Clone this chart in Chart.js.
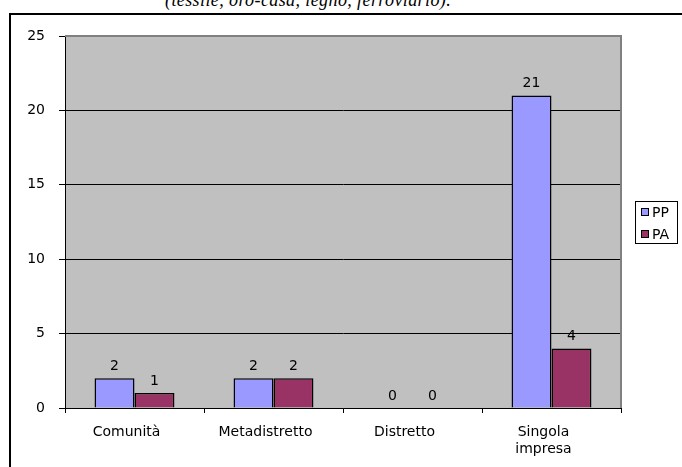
<!DOCTYPE html>
<html>
<head>
<meta charset="utf-8">
<script src="https://cdn.jsdelivr.net/npm/chart.js@4.4.1/dist/chart.umd.min.js"></script>
<style>
  html, body { margin: 0; padding: 0; background: #fff; overflow: hidden; }
  #wrap { position: relative; width: 682px; height: 467px; }
  #caption {
    position: absolute; left: 165px; top: -9px;
    font: italic 18px "Liberation Serif", serif; line-height: 18px; color: #000;
    white-space: nowrap; letter-spacing: 0.4px;
  }
  #frame {
    position: absolute; left: 9px; top: 13px; width: 720px; height: 520px;
    border: 2px solid #000; box-sizing: border-box; background: #fff;
  }
  canvas { position: absolute; left: 0; top: 0; }
</style>
</head>
<body>
<div id="wrap">
  <div id="caption">(tessile, oro-casa, legno, ferroviario).</div>
  <div id="frame"></div>
  <canvas id="c" width="682" height="467"></canvas>
</div>
<script>
// Categories and series
const categories = ['Comunità', 'Metadistretto', 'Distretto', ['Singola', 'impresa']];
const seriesPP = [2, 2, 0, 21];
const seriesPA = [1, 2, 0, 4];
const yTicks = [0, 5, 10, 15, 20, 25];

const FONT = 'DejaVu Sans, Verdana, sans-serif';
const FSIZE = 14;

// Gray plot background plus its gray top/right edge
const plotArea = {
  id: 'plotArea',
  beforeDraw(chart) {
    const { ctx, chartArea: a } = chart;
    ctx.save();
    ctx.fillStyle = '#c0c0c0';
    ctx.fillRect(a.left, a.top, a.right - a.left, a.bottom - a.top);
    ctx.restore();
  },
  beforeDatasetsDraw(chart) {
    const { ctx, chartArea: a } = chart;
    ctx.save();
    ctx.strokeStyle = '#808080';
    ctx.lineWidth = 2;
    ctx.beginPath();
    ctx.moveTo(a.left, a.top);
    ctx.lineTo(a.right, a.top);
    ctx.lineTo(a.right, a.bottom);
    ctx.stroke();
    ctx.restore();
  }
};

// Value labels above each bar
const valueLabels = {
  id: 'valueLabels',
  afterDatasetsDraw(chart) {
    const { ctx } = chart;
    ctx.save();
    ctx.font = FSIZE + 'px ' + FONT;
    ctx.fillStyle = '#000';
    ctx.textAlign = 'center';
    ctx.textBaseline = 'middle';
    chart.data.datasets.forEach((ds, i) => {
      chart.getDatasetMeta(i).data.forEach((el, j) => {
        ctx.fillText(String(ds.data[j]), el.x, el.y - 12);
      });
    });
    ctx.restore();
  }
};

// Boxed legend to the right of the plot
const boxLegend = {
  id: 'boxLegend',
  afterDraw(chart) {
    const { ctx } = chart;
    const x = 635, y = 201, w = 42, h = 42;
    ctx.save();
    ctx.fillStyle = '#fff';
    ctx.fillRect(x, y, w, h);
    ctx.strokeStyle = '#000';
    ctx.lineWidth = 1;
    ctx.strokeRect(x + 0.5, y + 0.5, w, h);
    ctx.font = FSIZE + 'px ' + FONT;
    ctx.textBaseline = 'middle';
    chart.data.datasets.forEach((ds, i) => {
      const cy = 212 + i * 22;
      ctx.fillStyle = ds.backgroundColor;
      ctx.fillRect(641, cy - 4, 8, 8);
      ctx.strokeStyle = '#000';
      ctx.strokeRect(641.5, cy - 3.5, 7, 7);
      ctx.fillStyle = '#000';
      ctx.fillText(ds.label, 652, cy + 1);
    });
    ctx.restore();
  }
};

new Chart(document.getElementById('c'), {
  type: 'bar',
  data: {
    labels: categories,
    datasets: [
      { label: 'PP', data: seriesPP, backgroundColor: '#9999ff', borderColor: '#000', borderWidth: 1.5 },
      { label: 'PA', data: seriesPA, backgroundColor: '#993366', borderColor: '#000', borderWidth: 1.5 }
    ]
  },
  options: {
    responsive: false,
    animation: false,
    layout: { padding: { left: 0, top: 36, right: 61, bottom: 0 } },
    datasets: { bar: { categoryPercentage: 0.575, barPercentage: 1.0 } },
    plugins: { legend: { display: false }, tooltip: { enabled: false } },
    scales: {
      x: {
        afterFit(s) { s.height = 59; },
        grid: { offset: true, drawOnChartArea: false, color: '#000', tickLength: 5, lineWidth: 1 },
        border: { color: '#000', width: 1 },
        ticks: {
          color: '#000', font: { family: FONT, size: FSIZE, lineHeight: 1.2 },
          padding: 11, labelOffset: -8, maxRotation: 0, autoSkip: false
        }
      },
      y: {
        min: 0, max: 25,
        afterFit(s) { s.width = 65; },
        afterBuildTicks(s) { s.ticks = yTicks.map(v => ({ value: v })); },
        grid: {
          color: c => (c.tick && c.tick.value === 25) ? '#808080' : '#000',
          tickColor: '#000',
          tickLength: 6, lineWidth: 1
        },
        border: { color: '#000', width: 1 },
        ticks: { color: '#000', font: { family: FONT, size: FSIZE }, padding: 14 }
      }
    }
  },
  plugins: [plotArea, valueLabels, boxLegend]
});
</script>
</body>
</html>
